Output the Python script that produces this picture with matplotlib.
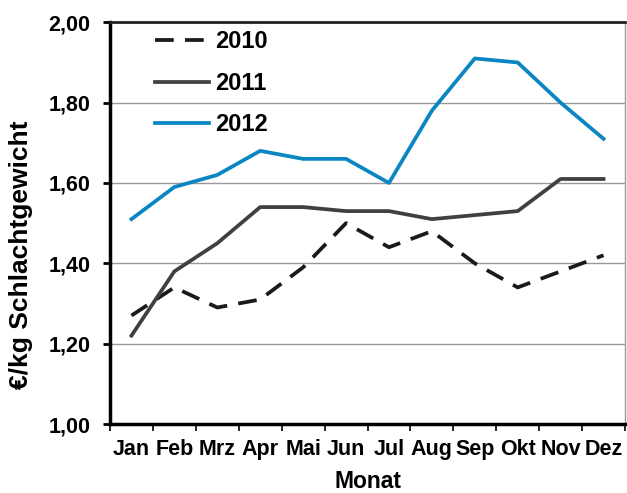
import matplotlib
matplotlib.use("Agg")
import matplotlib.pyplot as plt
import numpy as np

months = ["Jan", "Feb", "Mrz", "Apr", "Mai", "Jun", "Jul", "Aug", "Sep", "Okt", "Nov", "Dez"]
price_2010 = [1.27, 1.34, 1.29, 1.31, 1.39, 1.50, 1.44, 1.48, 1.40, 1.34, 1.38, 1.42]
price_2011 = [1.22, 1.38, 1.45, 1.54, 1.54, 1.53, 1.53, 1.51, 1.52, 1.53, 1.61, 1.61]
price_2012 = [1.51, 1.59, 1.62, 1.68, 1.66, 1.66, 1.60, 1.78, 1.91, 1.90, 1.80, 1.71]
y_ticks = [1.0, 1.2, 1.4, 1.6, 1.8, 2.0]

plt.rcParams["font.family"] = ["Liberation Sans", "DejaVu Sans"]
plt.rcParams["font.weight"] = "bold"

fig = plt.figure(figsize=(6.27, 4.93), dpi=100)
ax = fig.add_axes([110 / 627, 1 - 424 / 493, 515 / 627, (424 - 22.3) / 493])

x = np.arange(len(months))
ax.plot(x, price_2010, color="#1a1a1a", lw=2.7, dashes=(5, 3), label="2010")
ax.plot(x, price_2011, color="#404040", lw=2.7, label="2011")
ax.plot(x, price_2012, color="#0a86c2", lw=2.7, label="2012")

ax.set_xlim(-0.5, len(months) - 0.5)
ax.set_ylim(1.0, 2.0)

# y axis
ax.set_yticks(y_ticks)
ax.set_yticklabels([f"{v:.2f}".replace(".", ",") for v in y_ticks])
ax.yaxis.grid(True, color="#999999", lw=1)
ax.set_axisbelow(True)
ax.tick_params(axis="y", direction="out", length=5, width=2, pad=9,
               labelsize=15.5, colors="black")

# x axis: ticks at category edges, labels at centers
ax.set_xticks(np.arange(len(months) + 1) - 0.5)
ax.set_xticklabels([])
ax.set_xticks(x, minor=True)
ax.set_xticklabels(months, minor=True)
ax.tick_params(axis="x", which="major", direction="out", length=5, width=1.2)
ax.tick_params(axis="x", which="minor", length=0, pad=11, labelsize=15.5)

for side in ["left", "bottom"]:
    ax.spines[side].set_linewidth(2.5)
    ax.spines[side].set_color("black")
ax.spines["top"].set_linewidth(2)
ax.spines["top"].set_color("#222222")
ax.spines["right"].set_linewidth(1)
ax.spines["right"].set_color("#999999")

ax.set_xlabel("Monat", fontsize=16.5, fontweight="bold")
ax.xaxis.set_label_coords(0.5, -0.115)
ax.set_ylabel("€/kg Schlachtgewicht", fontsize=19, fontweight="bold")
ax.yaxis.set_label_coords(-0.1495, 0.421)

ax.legend(loc="upper left", bbox_to_anchor=(0.087, 0.98), frameon=False,
          fontsize=17, handlelength=2.3, handletextpad=0.25, labelspacing=0.785,
          borderpad=0, borderaxespad=0)

fig.savefig("out.png", dpi=100)
